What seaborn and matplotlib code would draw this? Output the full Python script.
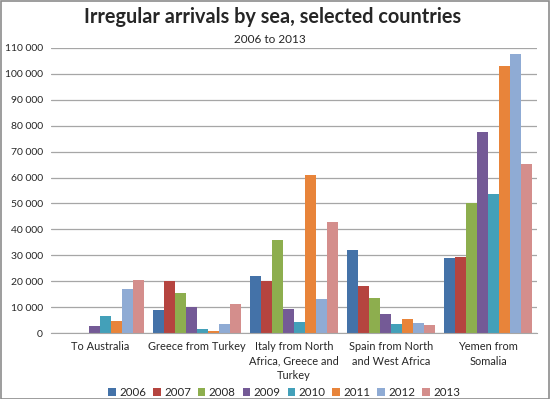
import matplotlib
matplotlib.use("Agg")
import matplotlib.pyplot as plt
import seaborn as sns
import pandas as pd
from matplotlib.ticker import FuncFormatter
from matplotlib.patches import Rectangle

categories = ["To Australia", "Greece from Turkey",
              "Italy from North\nAfrica, Greece and\nTurkey",
              "Spain from North\nand West Africa", "Yemen from\nSomalia"]
years = ["2006", "2007", "2008", "2009", "2010", "2011", "2012", "2013"]
v2006 = [0, 9000, 22000, 32000, 29000]
v2007 = [0, 20000, 20000, 18000, 29500]
v2008 = [200, 15300, 36000, 13500, 50000]
v2009 = [2900, 10000, 9500, 7300, 77500]
v2010 = [6800, 1500, 4400, 3600, 53500]
v2011 = [4600, 1000, 61000, 5400, 103000]
v2012 = [17200, 3600, 13200, 3800, 107500]
v2013 = [20600, 11400, 43000, 3200, 65300]
series = [v2006, v2007, v2008, v2009, v2010, v2011, v2012, v2013]
colors = ["#4472A8", "#B5443F", "#8DAE4E", "#745A96", "#43A0B9", "#E8843A", "#8FABD4", "#D48E8C"]

rows = []
for y, vals in zip(years, series):
    for c, v in zip(categories, vals):
        rows.append({"cat": c, "year": y, "value": v})
df = pd.DataFrame(rows)

sns.set_style("white")
plt.rcParams['font.family'] = ['Lato', 'DejaVu Sans']

fig = plt.figure(figsize=(5.5, 3.99), dpi=100)
ax = fig.add_axes([0.093, 0.165, 0.883, 0.715])
sns.barplot(data=df, x="cat", y="value", hue="year", palette=colors,
            width=0.91, ax=ax, saturation=1, legend=True, linewidth=0, gap=0)
ax.set_ylim(0, 110000)
ax.set_yticks(range(0, 110001, 10000))
ax.yaxis.set_major_formatter(FuncFormatter(lambda v, p: f"{int(v):,}".replace(",", " ")))
ax.grid(axis="y", color="#A6A6A6", lw=0.9)
ax.set_axisbelow(True)
for s in ["top", "right", "left"]:
    ax.spines[s].set_visible(False)
ax.spines["bottom"].set_color("#A6A6A6")
ax.tick_params(axis="y", length=0, labelsize=7.5, pad=6)
ax.tick_params(axis="x", length=0, labelsize=7.9, pad=6)
for t in ax.get_xticklabels():
    t.set_linespacing(1.38)
ax.set_xlabel("")
ax.set_ylabel("")
ax.set_xlim(-0.5, 4.5)

leg = ax.legend(loc="center", bbox_to_anchor=(0.48, -0.207), ncol=8, frameon=False,
                fontsize=8.3, handlelength=0.65, handleheight=0.65, handletextpad=0.3,
                columnspacing=0.6, borderaxespad=0, borderpad=0)

fig.text(0.495, 0.958, "Irregular arrivals by sea, selected countries", ha="center",
         va="center", fontsize=14.3, fontweight="bold")
fig.text(0.49, 0.9, "2006 to 2013", ha="center", va="center", fontsize=8.5)
fig.patches.append(Rectangle((0.001, 0.001), 0.997, 0.997, transform=fig.transFigure,
                             fill=False, edgecolor="#8C8C8C", lw=1.2))
fig.savefig("out.png", dpi=100)
